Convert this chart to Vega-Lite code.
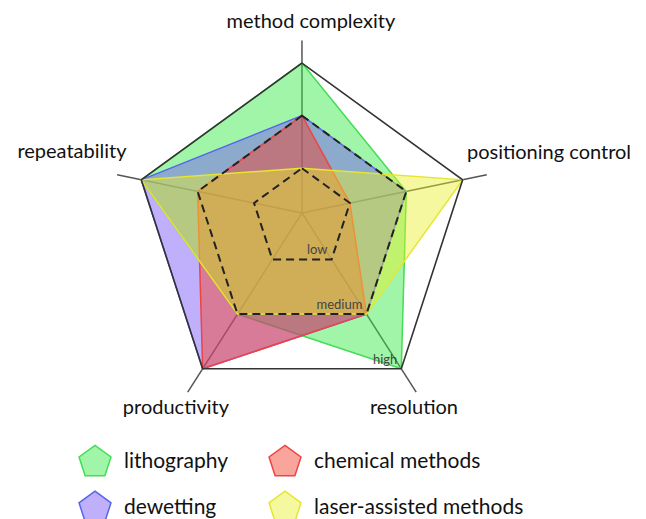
{
  "$schema": "https://vega.github.io/schema/vega-lite/v6.json",
  "width": 646,
  "height": 519,
  "autosize": "none",
  "padding": 0,
  "background": "white",
  "config": {"view": {"stroke": null}, "font": "Lato"},
  "datasets": {
    "scores": [
      {"method": "lithography", "axis": "method complexity", "level": 3},
      {"method": "lithography", "axis": "positioning control", "level": 2},
      {"method": "lithography", "axis": "resolution", "level": 3},
      {"method": "lithography", "axis": "productivity", "level": 2},
      {"method": "lithography", "axis": "repeatability", "level": 3},
      {"method": "dewetting", "axis": "method complexity", "level": 2},
      {"method": "dewetting", "axis": "positioning control", "level": 2},
      {"method": "dewetting", "axis": "resolution", "level": 2},
      {"method": "dewetting", "axis": "productivity", "level": 3},
      {"method": "dewetting", "axis": "repeatability", "level": 3},
      {"method": "chemical methods", "axis": "method complexity", "level": 2},
      {"method": "chemical methods", "axis": "positioning control", "level": 1},
      {"method": "chemical methods", "axis": "resolution", "level": 2},
      {"method": "chemical methods", "axis": "productivity", "level": 3},
      {"method": "chemical methods", "axis": "repeatability", "level": 2},
      {"method": "laser-assisted methods", "axis": "method complexity", "level": 1},
      {"method": "laser-assisted methods", "axis": "positioning control", "level": 3},
      {"method": "laser-assisted methods", "axis": "resolution", "level": 2},
      {"method": "laser-assisted methods", "axis": "productivity", "level": 2},
      {"method": "laser-assisted methods", "axis": "repeatability", "level": 3}
    ],
    "axes": [
      {"axis": "method complexity"},
      {"axis": "positioning control"},
      {"axis": "resolution"},
      {"axis": "productivity"},
      {"axis": "repeatability"}
    ],
    "levels": [
      {"level": 1, "name": "low", "axis": "resolution"},
      {"level": 2, "name": "medium", "axis": "resolution"},
      {"level": 3, "name": "high", "axis": "resolution"}
    ]
  },
  "layer": [
    {
      "data": {"name": "axes"},
      "transform": [
        {"calculate": "indexof(['method complexity','positioning control','resolution','productivity','repeatability'], datum.axis)", "as": "k"},
        {"calculate": "datum.k*2*PI/5", "as": "a"},
        {"calculate": "0", "as": "x0"},
        {"calculate": "0", "as": "y0"},
        {"calculate": "1.15*sin(datum.a)", "as": "x2"},
        {"calculate": "1.15*(cos(datum.a)-0.113)", "as": "y2"}
      ],
      "mark": {"type": "rule", "color": "#555555", "strokeWidth": 1.5},
      "encoding": {
        "x": {"field": "x0", "type": "quantitative", "scale": {"domain": [-1.787, 2.036], "nice": false, "zero": false}, "axis": null},
        "y": {"field": "y0", "type": "quantitative", "scale": {"domain": [-1.811, 1.26], "nice": false, "zero": false}, "axis": null},
        "x2": {"field": "x2"},
        "y2": {"field": "y2"}
      }
    },
    {
      "data": {"name": "scores"},
      "transform": [
        {"calculate": "indexof(['method complexity','positioning control','resolution','productivity','repeatability'], datum.axis)", "as": "k"},
        {"calculate": "datum.k*2*PI/5", "as": "a"},
        {"calculate": "(datum.level-0.15)/2.85", "as": "r"},
        {"calculate": "datum.r*sin(datum.a)", "as": "x"},
        {"calculate": "datum.r*(cos(datum.a)-0.113)", "as": "y"}
      ],
      "mark": {"type": "line", "interpolate": "linear-closed", "strokeWidth": 1.5},
      "encoding": {
        "x": {"field": "x", "type": "quantitative", "scale": {"domain": [-1.787, 2.036], "nice": false, "zero": false}, "axis": null},
        "y": {"field": "y", "type": "quantitative", "scale": {"domain": [-1.811, 1.26], "nice": false, "zero": false}, "axis": null},
        "order": {"field": "k", "type": "quantitative"},
        "fill": {
          "field": "method", "type": "nominal",
          "scale": {
            "domain": ["lithography", "dewetting", "chemical methods", "laser-assisted methods"],
            "range": ["rgba(44,233,62,0.45)", "rgba(115,79,248,0.45)", "rgba(242,64,42,0.47)", "rgba(232,240,40,0.45)"]
          },
          "legend": {
            "title": null, "orient": "none", "legendX": 77, "legendY": 444, "columns": 2, "padding": 0,
            "symbolType": "M0,-1L0.951,-0.309L0.588,0.809L-0.588,0.809L-0.951,-0.309Z",
            "symbolSize": 1130, "symbolStrokeWidth": 1.5, "labelFontSize": 21, "labelFont": "Lato",
            "labelColor": "#111111", "labelOffset": 11, "columnPadding": 38, "rowPadding": 9, "labelLimit": 400
          }
        },
        "stroke": {
          "field": "method", "type": "nominal",
          "scale": {
            "domain": ["lithography", "dewetting", "chemical methods", "laser-assisted methods"],
            "range": ["#44dd55", "#5566ee", "#ee4444", "#e6e632"]
          },
          "legend": {
            "title": null, "orient": "none", "legendX": 77, "legendY": 444, "columns": 2, "padding": 0,
            "symbolType": "M0,-1L0.951,-0.309L0.588,0.809L-0.588,0.809L-0.951,-0.309Z",
            "symbolSize": 1130, "symbolStrokeWidth": 1.5, "labelFontSize": 21, "labelFont": "Lato",
            "labelColor": "#111111", "labelOffset": 11, "columnPadding": 38, "rowPadding": 9, "labelLimit": 400
          }
        }
      }
    },
    {
      "data": {"name": "levels"},
      "transform": [
        {"calculate": "['method complexity','positioning control','resolution','productivity','repeatability']", "as": "axes"},
        {"flatten": ["axes"], "as": ["spoke"]},
        {"calculate": "indexof(['method complexity','positioning control','resolution','productivity','repeatability'], datum.spoke)", "as": "k"},
        {"calculate": "datum.k*2*PI/5", "as": "a"},
        {"calculate": "(datum.level-0.15)/2.85", "as": "r"},
        {"calculate": "datum.r*sin(datum.a)", "as": "x"},
        {"calculate": "datum.r*(cos(datum.a)-0.113)", "as": "y"},
        {"filter": "datum.level < 3"}
      ],
      "mark": {"type": "line", "interpolate": "linear-closed", "stroke": "#222222", "strokeWidth": 2, "strokeDash": [8, 5]},
      "encoding": {
        "x": {"field": "x", "type": "quantitative", "scale": {"domain": [-1.787, 2.036], "nice": false, "zero": false}, "axis": null},
        "y": {"field": "y", "type": "quantitative", "scale": {"domain": [-1.811, 1.26], "nice": false, "zero": false}, "axis": null},
        "order": {"field": "k", "type": "quantitative"},
        "detail": {"field": "level", "type": "nominal"}
      }
    },
    {
      "data": {"name": "levels"},
      "transform": [
        {"calculate": "['method complexity','positioning control','resolution','productivity','repeatability']", "as": "axes"},
        {"flatten": ["axes"], "as": ["spoke"]},
        {"calculate": "indexof(['method complexity','positioning control','resolution','productivity','repeatability'], datum.spoke)", "as": "k"},
        {"calculate": "datum.k*2*PI/5", "as": "a"},
        {"calculate": "(datum.level-0.15)/2.85", "as": "r"},
        {"calculate": "datum.r*sin(datum.a)", "as": "x"},
        {"calculate": "datum.r*(cos(datum.a)-0.113)", "as": "y"},
        {"filter": "datum.level == 3"}
      ],
      "mark": {"type": "line", "interpolate": "linear-closed", "stroke": "#333333", "strokeWidth": 1.6},
      "encoding": {
        "x": {"field": "x", "type": "quantitative", "scale": {"domain": [-1.787, 2.036], "nice": false, "zero": false}, "axis": null},
        "y": {"field": "y", "type": "quantitative", "scale": {"domain": [-1.811, 1.26], "nice": false, "zero": false}, "axis": null},
        "order": {"field": "k", "type": "quantitative"}
      }
    },
    {
      "data": {"name": "levels"},
      "transform": [
        {"calculate": "indexof(['method complexity','positioning control','resolution','productivity','repeatability'], datum.axis)", "as": "k"},
        {"calculate": "datum.k*2*PI/5", "as": "a"},
        {"calculate": "(datum.level-0.15)/2.85", "as": "r"},
        {"calculate": "datum.r*sin(datum.a)", "as": "x"},
        {"calculate": "datum.r*(cos(datum.a)-0.113)", "as": "y"}
      ],
      "mark": {"type": "text", "align": "right", "baseline": "bottom", "dx": -4, "dy": -2, "fontSize": 13, "color": "#444444", "font": "Lato"},
      "encoding": {
        "x": {"field": "x", "type": "quantitative", "scale": {"domain": [-1.787, 2.036], "nice": false, "zero": false}, "axis": null},
        "y": {"field": "y", "type": "quantitative", "scale": {"domain": [-1.811, 1.26], "nice": false, "zero": false}, "axis": null},
        "text": {"field": "name", "type": "nominal"}
      }
    },
    {
      "data": {"name": "axes"},
      "transform": [
        {"calculate": "indexof(['method complexity','positioning control','resolution','productivity','repeatability'], datum.axis)", "as": "k"},
        {"calculate": "datum.k*2*PI/5", "as": "a"},
        {"calculate": "sin(datum.a) + [0.053, 0.511, 0.075, -0.158, -0.41][datum.k]", "as": "x"},
        {"calculate": "cos(datum.a) - 0.113 + [0.243, 0.159, -0.232, -0.232, 0.165][datum.k]", "as": "y"}
      ],
      "mark": {"type": "text", "align": "center", "baseline": "middle", "fontSize": 20, "color": "#111111", "font": "Lato"},
      "encoding": {
        "x": {"field": "x", "type": "quantitative", "scale": {"domain": [-1.787, 2.036], "nice": false, "zero": false}, "axis": null},
        "y": {"field": "y", "type": "quantitative", "scale": {"domain": [-1.811, 1.26], "nice": false, "zero": false}, "axis": null},
        "text": {"field": "axis", "type": "nominal"}
      }
    }
  ]
}
